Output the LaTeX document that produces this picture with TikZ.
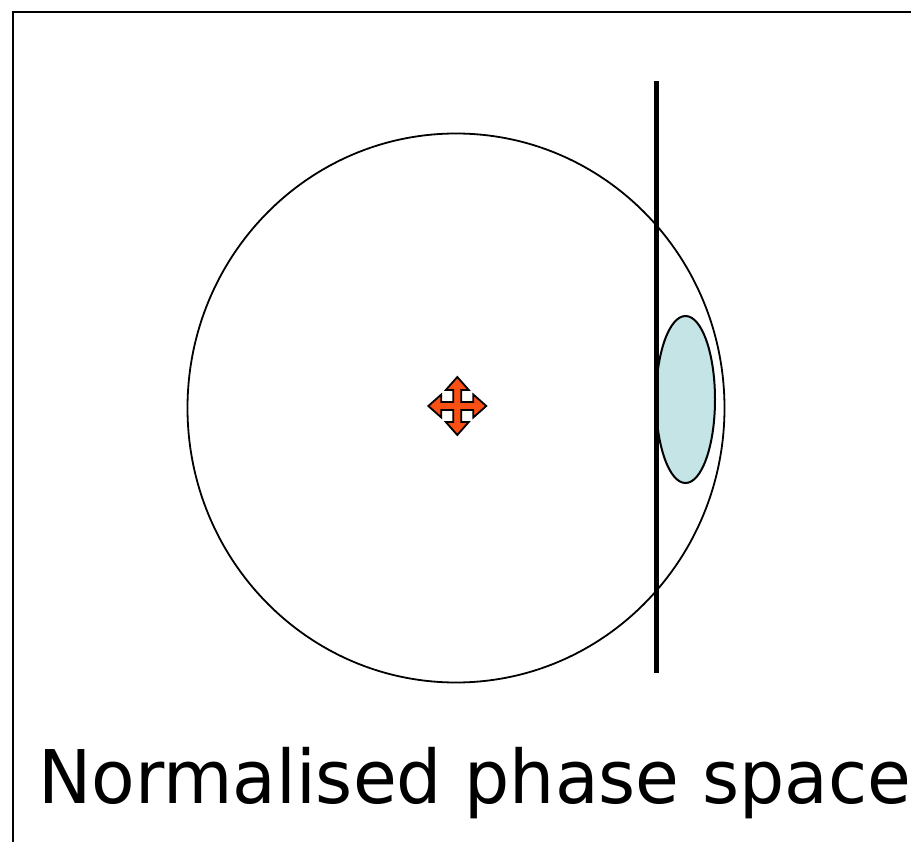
\documentclass[tikz,border=0pt]{standalone}
\usepackage{fontspec}
\setmainfont{DejaVu Sans}
\usepackage{tikz}
\definecolor{movered}{RGB}{250,80,20}
\definecolor{spotblue}{RGB}{196,228,230}
\tikzset{
  frame/.style={draw=black,line width=2.5pt},
  bound/.style={draw=black,line width=1.8pt},          % phase space boundary
  spot/.style={draw=black,fill=spotblue,line width=2pt},
  cut/.style={draw=black,line width=5pt},              % aperture
  moveicon/.style={draw=black,fill=movered,line width=1.8pt,line join=miter},
  caption/.style={font=\fontsize{74}{80}\selectfont,inner sep=0pt,transform shape,xscale=0.963},
}

\begin{document}
\begin{tikzpicture}[x=1pt,y=-1pt]
  \useasboundingbox (0,0) rectangle (911,842);
  \draw[frame] (13,842) -- (13,12) -- (911,12);
  % phase space
  \coordinate (ctr) at (456,408);
  \draw[bound] (ctr) ellipse [x radius=268.5,y radius=274.5];
  \coordinate (spotc) at (685.5,399.5);
  \draw[spot] (spotc) ellipse [x radius=29.5,y radius=83.5];
  \coordinate (cuttop) at (656,81);
  \coordinate (cutbot) at (656,673);
  \draw[cut] (cuttop) -- (cutbot);
  % four-way arrow
  \draw[moveicon,shift={(457.3,406)}]
    (29,0) -- (16,11.5) -- (16,4) -- (4,4) -- (4,16) -- (11.5,16) --
    (0,29) -- (-11.5,16) -- (-4,16) -- (-4,4) -- (-16,4) -- (-16,11.5) --
    (-29,0) -- (-16,-11.5) -- (-16,-4) -- (-4,-4) -- (-4,-16) -- (-11.5,-16) --
    (0,-29) -- (11.5,-16) -- (4,-16) -- (4,-4) -- (16,-4) -- (16,-11.5) -- cycle;
  \node[caption,anchor=base west] (cap) at (38,803) {Normalised phase space};
\end{tikzpicture}
\end{document}
